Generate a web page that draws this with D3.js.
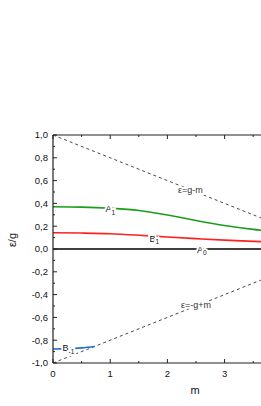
<!DOCTYPE html>
<html><head><meta charset="utf-8">
<script src="https://cdn.jsdelivr.net/npm/d3@7"></script>
<style>body{margin:0;background:#fff;}svg{display:block;font-family:"Liberation Sans",Arial,sans-serif;}</style>
</head><body>
<svg id="c" width="261" height="406"></svg>
<script>
const mA1 = [0,0.5,1,1.5,2,2.5,3,3.5,3.8];
const vA1 = [0.370,0.367,0.357,0.338,0.299,0.250,0.206,0.172,0.157];
const mB1 = [0,0.5,1,1.5,2,2.5,3,3.5,3.8];
const vB1 = [0.143,0.140,0.134,0.121,0.105,0.091,0.078,0.067,0.061];
const mA0 = [0,3.8];
const vA0 = [0,0];
const mBm1 = [0,0.25,0.5,0.73];
const vBm1 = [-0.877,-0.874,-0.867,-0.855];
const gVal = 5;
const yTicks = [-1,-0.8,-0.6,-0.4,-0.2,0,0.2,0.4,0.6,0.8,1];
const yTickLabels = ["-1,0","-0,8","-0,6","-0,4","-0,2","0,0","0,2","0,4","0,6","0,8","1,0"];
const xTicks = [0,1,2,3,4];
const xTickLabels = ["0","1","2","3","4"];

const svg = d3.select("#c");
const L = 53, T = 135, B = 363;
const x = d3.scaleLinear().domain([0,4]).range([L, L + 4*57.2]);
const y = d3.scaleLinear().domain([-1,1]).range([B, T]);
const W = 261;

svg.append("defs").append("clipPath").attr("id","clip")
  .append("rect").attr("x",L).attr("y",T).attr("width",W-L).attr("height",B-T);

const g = svg.append("g").attr("clip-path","url(#clip)");
const line = d3.line().x(d=>x(d[0])).y(d=>y(d[1])).curve(d3.curveMonotoneX);

// dashed lines
g.append("path").attr("d", line([[0,1],[4,1-4/gVal]])).attr("stroke","#333").attr("stroke-width",0.9).attr("stroke-dasharray","3,3").attr("fill","none");
g.append("path").attr("d", line([[0,-1],[4,-1+4/gVal]])).attr("stroke","#333").attr("stroke-width",0.9).attr("stroke-dasharray","3,3").attr("fill","none");

function series(ms, vs, col){
  g.append("path").attr("d", line(ms.map((m,i)=>[m,vs[i]]))).attr("stroke",col).attr("stroke-width",1.6).attr("fill","none");
}
series(mA0,vA0,"#000");
series(mB1,vB1,"#ff2020");
series(mA1,vA1,"#1a9e1a");
series(mBm1,vBm1,"#1f6fd6");

// axes
const ax = svg.append("g");
ax.append("line").attr("x1",L).attr("x2",L).attr("y1",T).attr("y2",B).attr("stroke","#222").attr("stroke-width",1.2);
ax.append("line").attr("x1",L).attr("x2",W).attr("y1",B).attr("y2",B).attr("stroke","#222").attr("stroke-width",1.2);
ax.append("line").attr("x1",L).attr("x2",W).attr("y1",T).attr("y2",T).attr("stroke","#222").attr("stroke-width",1.2);

// y ticks
for (let v=-1; v<=1.0001; v+=0.1){
  const major = Math.abs(Math.round(v*10)%2)===0;
  ax.append("line").attr("x1",L).attr("x2",L+(major?4:2)).attr("y1",y(v)).attr("y2",y(v)).attr("stroke","#222").attr("stroke-width",1);
}
yTicks.forEach((v,i)=>{
  ax.append("text").attr("x",L-5).attr("y",y(v)+3.4).attr("text-anchor","end").attr("font-size",9.5).attr("fill","#111").text(yTickLabels[i]);
});
// x ticks
for (let v=0; v<=4.0001; v+=0.5){
  const major = Math.abs(v-Math.round(v))<1e-6;
  const xx = x(v);
  if (xx > W) continue;
  ax.append("line").attr("x1",xx).attr("x2",xx).attr("y1",B).attr("y2",B-(major?4:2)).attr("stroke","#222").attr("stroke-width",1);
  ax.append("line").attr("x1",xx).attr("x2",xx).attr("y1",T).attr("y2",T+(major?4:2)).attr("stroke","#222").attr("stroke-width",1);
}
xTicks.forEach((v,i)=>{
  if (x(v) > W) return;
  ax.append("text").attr("x",x(v)).attr("y",B+14).attr("text-anchor","middle").attr("font-size",9.5).attr("fill","#111").text(xTickLabels[i]);
});

// axis titles
svg.append("text").attr("x",195).attr("y",394).attr("text-anchor","middle").attr("font-size",11).attr("fill","#111").text("m");
svg.append("text").attr("transform","translate(16,240) rotate(-90)").attr("text-anchor","middle").attr("font-size",11).attr("fill","#111").text("ε/g");

// curve labels
function label(m, v, main, sub, col){
  const t = svg.append("text").attr("x",x(m)).attr("y",y(v)+3.5).attr("text-anchor","middle").attr("font-size",9).attr("fill",col||"#111")
    .attr("stroke","#fff").attr("stroke-width",4).attr("paint-order","stroke");
  t.append("tspan").text(main);
  if (sub) t.append("tspan").attr("font-size",6.5).attr("dy",2.5).text(sub);
}
label(1.0, 0.355, "A", "1");
label(1.77, 0.095, "B", "1");
label(2.6, 0, "A", "0");
label(0.27, -0.868, "B", "-1");
label(2.4, 0.52, "ε=g-m", null, "#333");
label(2.5, -0.49, "ε=-g+m", null, "#333");
</script>
</body></html>
